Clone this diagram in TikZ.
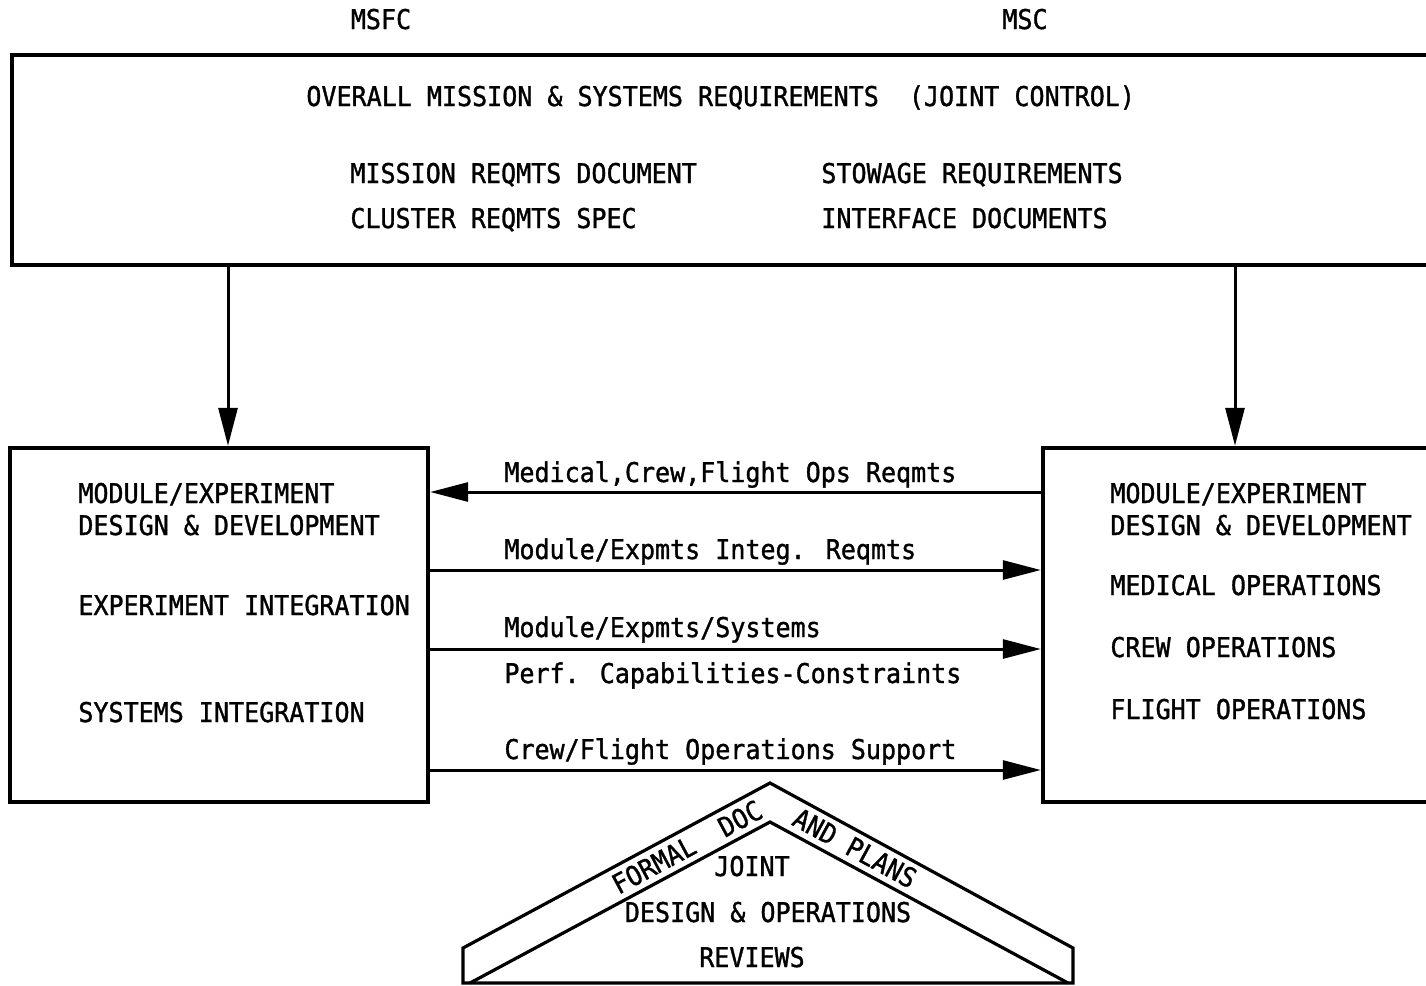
\documentclass[tikz,border=0pt]{standalone}
\usepackage{fontspec}
\setmainfont{DejaVu Sans Mono}[FakeStretch=0.92,FakeBold=1.2]
\usetikzlibrary{arrows.meta,fit}

\tikzset{
  txt/.style={anchor=base west, inner sep=0pt, font=\fontsize{13.6}{16}\selectfont},
  ctxt/.style={anchor=base, inner sep=0pt, font=\fontsize{13.6}{16}\selectfont},
  roof/.style={anchor=center, inner sep=0pt, font=\fontsize{13.6}{16}\selectfont},
  box/.style={draw, line width=2.2pt, inner sep=0pt},
  flow/.style={line width=1.5pt, -{Triangle[length=19pt,width=9.5pt]}},
  outline/.style={line width=1.6pt, line join=miter}
}

\begin{document}
\begin{tikzpicture}[x=0.5pt,y=-0.5pt]
  \useasboundingbox (0,0) rectangle (1426,986);
  \clip (0,0) rectangle (1426,986);

  % centre headings
  \node[ctxt] (msfc) at (381,29) {MSFC};
  \node[ctxt] (msc) at (1025,29) {MSC};

  % requirement block
  \node[box, fit={(12,55)(1470,265)}] (top) {};
  \node[txt] (overall) at (306,106) {OVERALL MISSION \& SYSTEMS REQUIREMENTS\ \ (JOINT CONTROL)};
  \node[txt] (mrd) at (350,183) {MISSION REQMTS DOCUMENT};
  \node[txt] (crs) at (350,228) {CLUSTER REQMTS SPEC};
  \node[txt] (stow) at (821,183) {STOWAGE REQUIREMENTS};
  \node[txt] (ifd) at (821,228) {INTERFACE DOCUMENTS};

  % MSFC block
  \node[box, fit={(10,448)(428,802)}] (lbox) {};
  \node[txt] (l1) at (78,503) {MODULE/EXPERIMENT};
  \node[txt] (l2) at (78,535) {DESIGN \& DEVELOPMENT};
  \node[txt] (l3) at (78,615) {EXPERIMENT INTEGRATION};
  \node[txt] (l4) at (78,722) {SYSTEMS INTEGRATION};

  % MSC block
  \node[box, fit={(1043,448)(1470,802)}] (rbox) {};
  \node[txt] (r1) at (1110,503) {MODULE/EXPERIMENT};
  \node[txt] (r2) at (1110,535) {DESIGN \& DEVELOPMENT};
  \node[txt] (r3) at (1110,595) {MEDICAL OPERATIONS};
  \node[txt] (r4) at (1110,657) {CREW OPERATIONS};
  \node[txt] (r5) at (1110,719) {FLIGHT OPERATIONS};

  % flow down from the joint requirements
  \coordinate (la) at (228,0);
  \coordinate (ra) at (1235,0);
  \draw[flow] (la |- top.south) -- (la |- lbox.north);
  \draw[flow] (ra |- top.south) -- (ra |- rbox.north);

  % exchanges between the centres
  \coordinate (h1) at (0,492);
  \coordinate (h2) at (0,570);
  \coordinate (h3) at (0,649);
  \coordinate (h4) at (0,770);
  \draw[flow] (rbox.west |- h1) -- (lbox.east |- h1);
  \draw[flow] (lbox.east |- h2) -- (rbox.west |- h2);
  \draw[flow] (lbox.east |- h3) -- (rbox.west |- h3);
  \draw[flow] (lbox.east |- h4) -- (rbox.west |- h4);
  \node[txt] (e1) at (504,482) {Medical,Crew,Flight Ops Reqmts};
  \node[txt] (e2) at (504,559) {Module/Expmts Integ. Reqmts};
  \node[txt] (e3) at (504,637) {Module/Expmts/Systems};
  \node[txt] (e4) at (504,683) {Perf. Capabilities-Constraints};
  \node[txt] (e5) at (504,759) {Crew/Flight Operations Support};

  % roof of joint reviews
  \coordinate (pbl) at (463,983);
  \coordinate (pl) at (463,948);
  \coordinate (pa) at (770,783);
  \coordinate (pr) at (1073,948);
  \coordinate (pbr) at (1073,983);
  \coordinate (pil) at (470,983);
  \coordinate (pia) at (770,822);
  \coordinate (pir) at (1068,983);
  \draw[outline] (pbl) -- (pl) -- (pa) -- (pr) -- (pbr) -- cycle;
  \draw[outline] (pil) -- (pia) -- (pir);
  \node[roof, rotate=28.2] (formal) at (687,847) {FORMAL\ \ DOC};
  \node[roof, rotate=-28.5] (plans) at (855,848) {AND PLANS};
  \node[ctxt] (j1) at (752,876) {JOINT};
  \node[ctxt] (j2) at (768,922) {DESIGN \& OPERATIONS};
  \node[ctxt] (j3) at (752,967) {REVIEWS};
\end{tikzpicture}
\end{document}
